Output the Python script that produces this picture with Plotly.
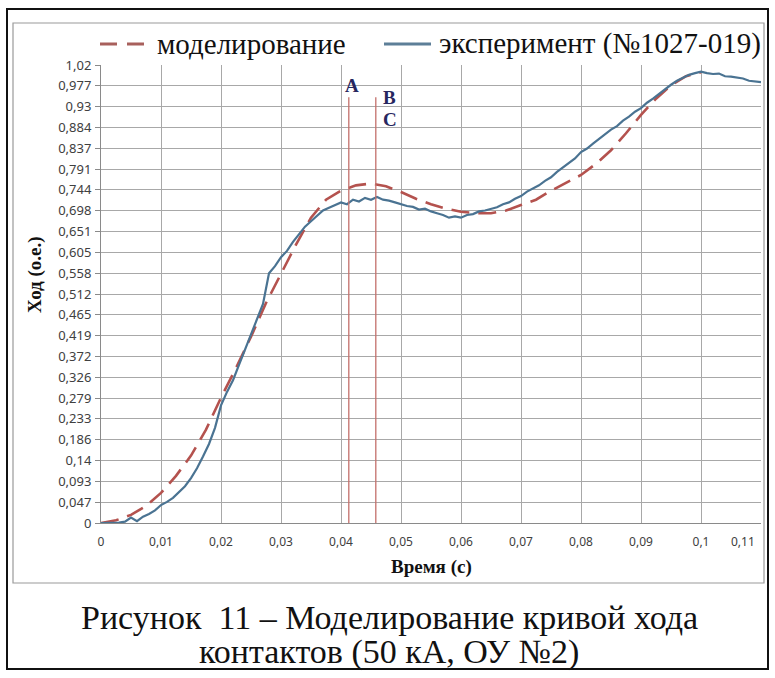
import plotly.graph_objects as go

# ---------------- data ----------------
# experiment (blue), sampled every 1 ms from 0 to 0.110 s
exp_time = [i / 1000 for i in range(111)]
exp_values = [
    0.000, 0.000, 0.000, 0.001, 0.003, 0.012, 0.004, 0.014, 0.020, 0.028,
    0.040, 0.047, 0.056, 0.068, 0.082, 0.100, 0.122, 0.148, 0.176, 0.212,
    0.262, 0.292, 0.318, 0.352, 0.386, 0.420, 0.452, 0.488, 0.556, 0.572,
    0.592, 0.606, 0.626, 0.644, 0.660, 0.672, 0.684, 0.696, 0.702, 0.708,
    0.714, 0.710, 0.720, 0.716, 0.724, 0.720, 0.726, 0.720, 0.718, 0.714,
    0.710, 0.706, 0.704, 0.698, 0.700, 0.694, 0.690, 0.686, 0.680, 0.683,
    0.680, 0.686, 0.688, 0.694, 0.696, 0.700, 0.703, 0.710, 0.714, 0.722,
    0.728, 0.738, 0.745, 0.752, 0.762, 0.770, 0.782, 0.792, 0.803, 0.812,
    0.826, 0.834, 0.845, 0.856, 0.866, 0.876, 0.884, 0.896, 0.905, 0.916,
    0.924, 0.936, 0.945, 0.956, 0.965, 0.976, 0.985, 0.992, 0.998, 1.002,
    1.005, 1.002, 1.000, 1.001, 0.995, 0.994, 0.992, 0.990, 0.985, 0.983,
    0.982,
]

# model (dashed red), sampled every 2.5 ms from 0 to 0.100 s
model_time = [i * 0.0025 for i in range(41)]
model_values = [
    0.000, 0.006, 0.018, 0.038, 0.067, 0.105, 0.150, 0.208, 0.279, 0.345,
    0.415, 0.490, 0.555, 0.620, 0.680, 0.720, 0.740, 0.752, 0.756, 0.750,
    0.737, 0.722, 0.710, 0.700, 0.693, 0.690, 0.690, 0.696, 0.708, 0.720,
    0.740, 0.757, 0.775, 0.800, 0.830, 0.868, 0.909, 0.945, 0.975, 0.995,
    1.004,
]

# tick labels
y_tick_labels = ["0", "0,047", "0,093", "0,14", "0,186", "0,233", "0,279",
                 "0,326", "0,372", "0,419", "0,465", "0,512", "0,558", "0,605",
                 "0,651", "0,698", "0,744", "0,791", "0,837", "0,884", "0,93",
                 "0,977", "1,02"]
y_max = 1.02
x_tick_values = [i / 100 for i in range(12)]
x_tick_labels = ["0", "0,01", "0,02", "0,03", "0,04", "0,05", "0,06",
                 "0,07", "0,08", "0,09", "0,1", "0,11"]

# marker lines A / B,C
marker_times = [0.0413, 0.0458]
marker_top = 0.948
marker_labels = ["A", "B", "C"]
marker_label_x = [0.0418, 0.0480, 0.0481]
marker_label_y = [0.975, 0.948, 0.898]

series_names = ["моделирование", "эксперимент (№1027-019)"]
series_colors = ["#b4524e", "#4a7392"]
caption_lines = ["Рисунок  11 – Моделирование кривой хода",
                 "контактов (50 кА, ОУ №2)"]

# ---------------- figure ----------------
W, H = 775, 678
L, R, T, B = 101, 14, 65, 155
pw, ph = W - L - R, H - T - B


def px(xp):
    return (xp - L) / pw


def py(yp):
    return (H - B - yp) / ph


n = len(y_tick_labels)
y_tick_vals = [y_max * i / (n - 1) for i in range(n)]

fig = go.Figure()
fig.add_trace(go.Scatter(
    x=model_time, y=model_values, mode="lines", name=series_names[0],
    line=dict(color=series_colors[0], width=2.6, dash="18px,9px"),
))
fig.add_trace(go.Scatter(
    x=exp_time, y=exp_values, mode="lines", name=series_names[1],
    line=dict(color=series_colors[1], width=2.2),
))

shapes = []
for t in marker_times:
    shapes.append(dict(type="line", xref="x", yref="y", x0=t, x1=t,
                       y0=0, y1=marker_top,
                       line=dict(color="#c4706c", width=1.3)))
# outer black border
shapes.append(dict(type="rect", xref="paper", yref="paper",
                   x0=px(7), x1=px(768), y0=py(9), y1=py(669),
                   line=dict(color="#111111", width=2), layer="below"))
# grey chart frame
shapes.append(dict(type="rect", xref="paper", yref="paper",
                   x0=px(13), x1=px(764), y0=py(23), y1=py(583),
                   line=dict(color="#9a9a9a", width=1.2), layer="below"))
# legend samples
leg_y = py(44)
shapes.append(dict(type="line", xref="paper", yref="paper",
                   x0=px(100), x1=px(148), y0=leg_y, y1=leg_y,
                   line=dict(color="#a8605c", width=3, dash="17px,10px")))
shapes.append(dict(type="line", xref="paper", yref="paper",
                   x0=px(384), x1=px(431), y0=leg_y, y1=leg_y,
                   line=dict(color="#5d7f98", width=3)))

annotations = []
for name, xl in zip(series_names, [155, 437]):
    annotations.append(dict(x=px(xl), y=leg_y, xref="paper", yref="paper",
                            text=name, showarrow=False,
                            font=dict(family="Liberation Serif", size=29,
                                      color="#111111"),
                            xanchor="left", yanchor="middle"))
for lab, lx, ly in zip(marker_labels, marker_label_x, marker_label_y):
    annotations.append(dict(x=lx, y=ly, xref="x", yref="y", text=lab,
                            showarrow=False,
                            font=dict(family="Liberation Serif", size=19,
                                      color="#27275f", weight="bold"),
                            xanchor="center", yanchor="middle"))
annotations.append(dict(x=px(35), y=py(275), xref="paper", yref="paper",
                        text="Ход (о.е.)", textangle=-90, showarrow=False,
                        font=dict(family="Liberation Serif", size=19,
                                  color="#111111", weight="bold"),
                        xanchor="center", yanchor="middle"))
annotations.append(dict(x=px(431), y=py(567), xref="paper", yref="paper",
                        text="Время (с)", showarrow=False,
                        font=dict(family="Liberation Serif", size=19,
                                  color="#111111", weight="bold"),
                        xanchor="center", yanchor="middle"))
# last x tick label, pulled inside the frame as in the original
annotations.append(dict(x=px(743), y=py(541), xref="paper", yref="paper",
                        text=x_tick_labels[-1], showarrow=False,
                        font=dict(family="Noto Sans", size=12, color="#404040"),
                        xanchor="center", yanchor="middle"))
for line_text, yl in zip(caption_lines, [617, 652]):
    annotations.append(dict(x=px(389), y=py(yl), xref="paper", yref="paper",
                            text=line_text, showarrow=False,
                            font=dict(family="Liberation Serif", size=34,
                                      color="#111111"),
                            xanchor="center", yanchor="middle"))

shown_x_labels = x_tick_labels[:-1] + [""]

fig.update_layout(
    width=W, height=H,
    margin=dict(l=L, r=R, t=T, b=B, pad=0),
    paper_bgcolor="white", plot_bgcolor="white",
    separators=", ",
    showlegend=False,
    shapes=shapes,
    annotations=annotations,
    xaxis=dict(range=[0, 0.11], tickvals=x_tick_values, ticktext=shown_x_labels,
               showgrid=True, gridcolor="#a8a8a8", gridwidth=1,
               showline=True, linecolor="#8a8a8a", linewidth=1,
               ticks="", zeroline=False, ticklabelstandoff=8,
               tickfont=dict(family="Noto Sans", size=12, color="#404040")),
    yaxis=dict(range=[0, y_max], tickvals=y_tick_vals, ticktext=y_tick_labels,
               showgrid=True, gridcolor="#a8a8a8", gridwidth=1,
               showline=True, linecolor="#8a8a8a", linewidth=1,
               ticks="outside", ticklen=5, tickcolor="#8a8a8a",
               zeroline=False, ticklabelstandoff=1,
               tickfont=dict(family="Noto Sans", size=13, color="#404040")),
)

fig.write_html("out.html")
